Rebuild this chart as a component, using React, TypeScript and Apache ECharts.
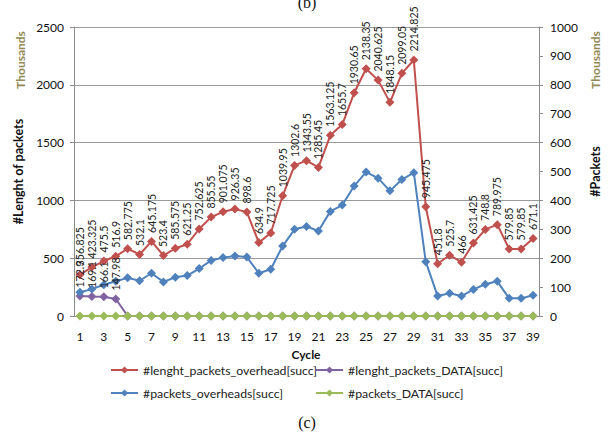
import React, { useEffect, useRef } from "react";
import * as echarts from "echarts";

const cycles = Array.from({ length: 39 }, (_, i) => String(i + 1));

const lenOverhead = [
  356.825, 423.325, 475.5, 516.9, 582.775, 532.1, 645.175, 523.4, 585.575, 621.25,
  752.625, 855.55, 901.075, 926.35, 898.6, 634.9, 717.725, 1039.95, 1302.6, 1343.55,
  1285.45, 1563.125, 1655.7, 1930.65, 2138.35, 2040.625, 1848.15, 2099.05, 2214.825, 945.475,
  451.8, 525.7, 466, 631.425, 748.8, 789.975, 579.85, 579.85, 671.1,
];

const lenData = [
  172.9, 169.1, 166.1, 147.98, 0, 0, 0, 0, 0, 0,
  0, 0, 0, 0, 0, 0, 0, 0, 0, 0,
  0, 0, 0, 0, 0, 0, 0, 0, 0, 0,
  0, 0, 0, 0, 0, 0, 0, 0, 0,
];

const packetsOverhead = [
  82, 93, 108, 120, 132, 122, 148, 118, 134, 140,
  164, 192, 202, 208, 204, 148, 162, 242, 300, 310,
  294, 362, 384, 450, 498, 477, 433, 472, 496, 188,
  69, 79, 69, 92, 110, 120, 61, 61, 72,
];

const packetsData = [
  0, 0, 0, 0, 0, 0, 0, 0, 0, 0,
  0, 0, 0, 0, 0, 0, 0, 0, 0, 0,
  0, 0, 0, 0, 0, 0, 0, 0, 0, 0,
  0, 0, 0, 0, 0, 0, 0, 0, 0,
];

const leftTicks = { min: 0, max: 2500, interval: 500 };
const rightTicks = { min: 0, max: 1000, interval: 100 };

const names = [
  "#lenght_packets_overhead[succ]",
  "#lenght_packets_DATA[succ]",
  "#packets_overheads[succ]",
  "#packets_DATA[succ]",
];
const colors = ["#C0504D", "#8064A2", "#4F81BD", "#9BBB59"];

const FONT = "Lato, 'Open Sans', sans-serif";

export default function App() {
  const ref = useRef<HTMLDivElement>(null);

  useEffect(() => {
    document.body.style.margin = "0";
    const chart = echarts.init(ref.current!, undefined, { renderer: "svg" });

    const dataLabel = {
      show: true,
      position: "top",
      rotate: 90,
      align: "left",
      verticalAlign: "middle",
      distance: 4,
      fontSize: 10.5,
      fontFamily: FONT,
      color: "#222",
      formatter: (p: any) => (p.value === 0 ? "" : String(p.value)),
    };

    const mkSeries = (i: number, data: number[], yIdx: number, label: boolean) => ({
      name: names[i],
      type: "line",
      yAxisIndex: yIdx,
      data,
      symbol: "diamond",
      symbolSize: 9,
      showSymbol: true,
      showAllSymbol: true,
      itemStyle: { color: colors[i] },
      lineStyle: { color: colors[i], width: 2 },
      label: label ? dataLabel : { show: false },
      labelLayout: { hideOverlap: false },
    });

    const legendPos = [
      { left: 110, top: 364 },
      { left: 315, top: 364 },
      { left: 110, top: 387 },
      { left: 315, top: 387 },
    ];

    const plain = (v: number) => String(v);

    chart.setOption({
      animation: false,
      textStyle: { fontFamily: FONT },
      grid: { left: 74, right: 74, top: 27, bottom: 119 },
      legend: legendPos.map((p, i) => ({
        data: [names[i]],
        left: p.left,
        top: p.top,
        padding: 0,
        itemWidth: 27,
        itemHeight: 9,
        itemGap: 0,
        textStyle: { fontSize: 12.3, color: "#222", fontFamily: FONT },
      })),
      xAxis: {
        type: "category",
        data: cycles,
        boundaryGap: true,
        axisLine: { lineStyle: { color: "#8c8c8c" } },
        axisTick: { show: false },
        axisLabel: { interval: 1, fontSize: 12, color: "#111", margin: 14, fontFamily: FONT },
      },
      yAxis: [
        {
          type: "value",
          ...leftTicks,
          name: "#Lenght of packets",
          nameLocation: "middle",
          nameRotate: 90,
          nameGap: 48,
          nameTextStyle: { fontWeight: "bold", fontSize: 12.5, color: "#111", fontFamily: FONT },
          axisLine: { show: true, lineStyle: { color: "#8c8c8c" } },
          axisTick: { show: true, length: 4, lineStyle: { color: "#8c8c8c" } },
          axisLabel: { fontSize: 12, color: "#111", margin: 10, fontFamily: FONT, formatter: plain },
          splitLine: { lineStyle: { color: "#9a9a9a" } },
        },
        {
          type: "value",
          ...rightTicks,
          name: "#Packets",
          nameLocation: "middle",
          nameRotate: 90,
          nameGap: 50,
          nameTextStyle: { fontWeight: "bold", fontSize: 12.5, color: "#111", fontFamily: FONT },
          axisLine: { show: true, lineStyle: { color: "#8c8c8c" } },
          axisTick: { show: true, length: 4, lineStyle: { color: "#8c8c8c" } },
          axisLabel: { fontSize: 12, color: "#111", margin: 11, fontFamily: FONT, formatter: plain },
          splitLine: { show: false },
        },
      ],
      graphic: [
        {
          type: "text",
          x: 20,
          y: 60,
          rotation: Math.PI / 2,
          style: {
            text: "Thousands",
            fontSize: 12,
            fontWeight: "bold",
            fill: "#948A54",
            fontFamily: FONT,
            align: "center",
            verticalAlign: "middle",
          },
        },
        {
          type: "text",
          x: 595,
          y: 60,
          rotation: Math.PI / 2,
          style: {
            text: "Thousands",
            fontSize: 12,
            fontWeight: "bold",
            fill: "#948A54",
            fontFamily: FONT,
            align: "center",
            verticalAlign: "middle",
          },
        },
        {
          type: "text",
          x: 306,
          y: 354,
          style: {
            text: "Cycle",
            fontSize: 12,
            fontWeight: "bold",
            fill: "#111",
            fontFamily: FONT,
            align: "center",
            verticalAlign: "middle",
          },
        },
        {
          type: "text",
          x: 307,
          y: 2,
          style: {
            text: "(b)",
            fontSize: 16,
            fill: "#111",
            fontFamily: "'Liberation Serif', serif",
            align: "center",
            verticalAlign: "middle",
          },
        },
        {
          type: "text",
          x: 307,
          y: 422,
          style: {
            text: "(c)",
            fontSize: 16,
            fill: "#111",
            fontFamily: "'Liberation Serif', serif",
            align: "center",
            verticalAlign: "middle",
          },
        },
      ],
      series: [
        mkSeries(0, lenOverhead, 0, true),
        mkSeries(1, lenData, 0, true),
        mkSeries(2, packetsOverhead, 1, false),
        mkSeries(3, packetsData, 1, false),
      ],
    });

    return () => chart.dispose();
  }, []);

  return <div ref={ref} style={{ width: 613, height: 435 }} />;
}
